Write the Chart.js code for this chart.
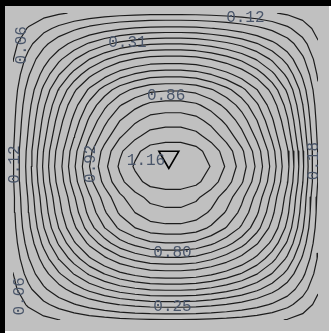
<!DOCTYPE html>
<html><head><meta charset="utf-8">
<script src="https://cdn.jsdelivr.net/npm/chart.js@4/dist/chart.umd.min.js"></script>
<style>html,body{margin:0;padding:0;background:#fff;overflow:hidden}#wrap{width:331px;height:333px;position:relative}</style>
</head><body><div id="wrap"><canvas id="c" width="331" height="333"></canvas></div>
<script>
// ---- data ----
const xNodes = [0,0.05,0.1,0.15,0.2,0.25,0.3,0.35,0.4,0.45,0.5,0.55,0.6,0.65,0.7,0.75,0.8,0.85,0.9,0.95,1];
const yNodes = [0,0.05,0.1,0.15,0.2,0.25,0.3,0.35,0.4,0.45,0.5,0.55,0.6,0.65,0.7,0.75,0.8,0.85,0.9,0.95,1];
const xProfile = [0.10,0.24,0.38,0.51,0.63,0.74,0.83,0.905,0.955,0.99,1.0,1.0,0.985,0.945,0.89,0.82,0.73,0.62,0.49,0.33,0.155];
const yProfile = [0.10,0.24,0.38,0.51,0.63,0.74,0.83,0.885,0.92,0.975,1.0,0.98,0.925,0.875,0.815,0.735,0.62,0.50,0.37,0.23,0.09];
const peakValue = 1.16;
const contourLevels = [0.06,0.12,0.18,0.25,0.31,0.37,0.43,0.49,0.55,0.62,0.68,0.74,0.80,0.86,0.92,0.98,1.04,1.10];
const labelTexts = ['0.31','0.86','1.16','0.92','0.80','0.25','0.12','0.06','0.12','0.18','0.06'];
const peakMarkerX = [0.511];
const peakMarkerY = [0.531];

// ---- layout of labels (data coords) ----
const labelLayout = [
  {x:0.375,y:0.904,rot:0},
  {x:0.502,y:0.731,rot:0},
  {x:0.436,y:0.519,rot:0},
  {x:0.254,y:0.509,rot:-90},
  {x:0.523,y:0.219,rot:0},
  {x:0.523,y:0.043,rot:0},
  {x:0.762,y:0.985,rot:0},
  {x:0.028,y:0.895,rot:-90},
  {x:0.004,y:0.506,rot:-90},
  {x:0.988,y:0.518,rot:-90},
  {x:0.022,y:0.077,rot:-90}
];

// ---- field table built from the profiles ----
const grid = yNodes.map((_,j)=>xNodes.map((_,i)=>peakValue*xProfile[i]*yProfile[j]));

function contourLines(level){
  const segs=[];
  const E=[[0,1],[1,2],[3,2],[0,3]];
  for(let j=0;j<yNodes.length-1;j++){
    for(let i=0;i<xNodes.length-1;i++){
      const v=[grid[j][i],grid[j][i+1],grid[j+1][i+1],grid[j+1][i]];
      const p=[[xNodes[i],yNodes[j]],[xNodes[i+1],yNodes[j]],[xNodes[i+1],yNodes[j+1]],[xNodes[i],yNodes[j+1]]];
      const keys=['H'+i+','+j,'V'+(i+1)+','+j,'H'+i+','+(j+1),'V'+i+','+j];
      const cr={};
      let n=0;
      for(let k=0;k<4;k++){
        const a=E[k][0],b=E[k][1];
        if((v[a]>=level)!==(v[b]>=level)){
          const t=(level-v[a])/(v[b]-v[a]);
          cr[k]={key:keys[k],pt:{x:p[a][0]+t*(p[b][0]-p[a][0]),y:p[a][1]+t*(p[b][1]-p[a][1])}};
          n++;
        }
      }
      const ks=Object.keys(cr).map(Number);
      if(n===2){segs.push([cr[ks[0]],cr[ks[1]]]);}
      else if(n===4){
        const c=(v[0]+v[1]+v[2]+v[3])/4;
        if((c>=level)===(v[0]>=level)){segs.push([cr[0],cr[1]]);segs.push([cr[2],cr[3]]);}
        else{segs.push([cr[3],cr[0]]);segs.push([cr[1],cr[2]]);}
      }
    }
  }
  const map={};
  segs.forEach((s,idx)=>{s.forEach(e=>{(map[e.key]=map[e.key]||[]).push(idx);});});
  const used=new Array(segs.length).fill(false);
  const lines=[];
  function nextFrom(key){const l=map[key]||[];for(const s of l){if(!used[s])return s;}return -1;}
  for(let s0=0;s0<segs.length;s0++){
    if(used[s0])continue;
    used[s0]=true;
    let pts=[segs[s0][0],segs[s0][1]];
    let end=segs[s0][1];
    while(true){const s=nextFrom(end.key);if(s<0)break;used[s]=true;const nx=segs[s][0].key===end.key?segs[s][1]:segs[s][0];pts.push(nx);end=nx;}
    let st=segs[s0][0];
    while(true){const s=nextFrom(st.key);if(s<0)break;used[s]=true;const nx=segs[s][0].key===st.key?segs[s][1]:segs[s][0];pts.unshift(nx);st=nx;}
    lines.push(pts.map(e=>e.pt));
  }
  return lines;
}

const datasets=[];
contourLevels.forEach(lv=>{
  contourLines(lv).forEach(pts=>{
    datasets.push({data:pts,showLine:true,pointRadius:0,borderColor:'#1c1c1c',borderWidth:1.2,fill:false,tension:0,order:2});
  });
});
datasets.push({data:peakMarkerX.map((x,i)=>({x,y:peakMarkerY[i]})),showLine:false,pointStyle:'triangle',rotation:180,pointRadius:11.5,borderColor:'#000',borderWidth:1.6,backgroundColor:'rgba(0,0,0,0)',order:0});

const framePlugin={
  id:'frame',
  beforeDraw(ch){
    const c=ch.ctx;c.save();
    c.fillStyle='#ffffff';c.fillRect(0,0,ch.width,ch.height);
    c.fillStyle='#c0c0c0';c.fillRect(0,0,329,331);
    c.restore();
  },
  afterDatasetsDraw(ch){
    const c=ch.ctx,xs=ch.scales.x,ys=ch.scales.y;
    c.save();
    c.font='16px "Liberation Mono", "DejaVu Sans Mono", monospace';
    c.fillStyle='#4a566a';c.textAlign='center';c.textBaseline='middle';
    labelTexts.forEach((t,i)=>{
      const L=labelLayout[i];
      c.save();c.translate(xs.getPixelForValue(L.x),ys.getPixelForValue(L.y));c.rotate(L.rot*Math.PI/180);
      c.fillText(t,0,0);c.restore();
    });
    c.restore();
  },
  afterDraw(ch){
    const c=ch.ctx;c.save();
    c.fillStyle='#000';
    c.fillRect(0,0,331,6);
    c.fillRect(0,0,5,333);
    c.restore();
  }
};

new Chart(document.getElementById('c'),{
  type:'scatter',
  data:{datasets},
  options:{
    responsive:false,animation:false,
    layout:{padding:{left:5,top:6,right:3,bottom:3}},
    scales:{x:{type:'linear',min:0,max:1,display:false},y:{type:'linear',min:0,max:1,display:false}},
    plugins:{legend:{display:false},tooltip:{enabled:false}},
    elements:{line:{borderCapStyle:'round',borderJoinStyle:'round'}}
  },
  plugins:[framePlugin]
});
</script></body></html>
